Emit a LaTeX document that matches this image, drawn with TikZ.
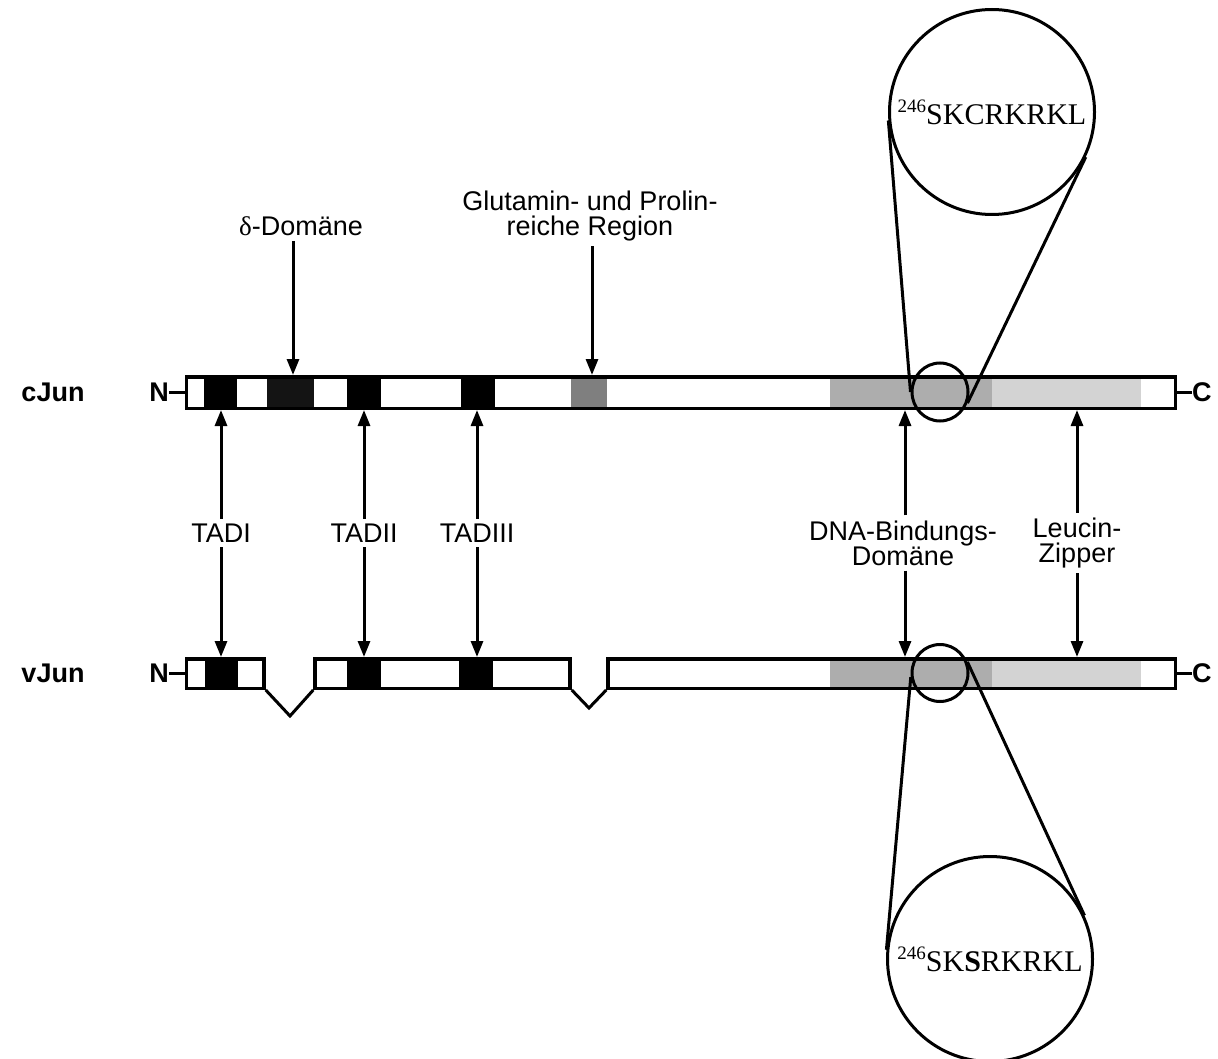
\documentclass[tikz,border=0pt]{standalone}
\usepackage{fontspec}
\setmainfont{Liberation Sans}
\newfontfamily\seqfont{Liberation Serif}
\usetikzlibrary{arrows.meta,shapes.geometric,calc}
\definecolor{darkblk}{HTML}{141414}
\definecolor{pqgray}{HTML}{7F7F7F}
\definecolor{dnagray}{HTML}{ADADAD}
\definecolor{lzgray}{HTML}{D3D3D3}
\begin{document}
\begin{tikzpicture}[x=1pt,y=-1pt,
  lab/.style={font=\fontsize{27}{25}\selectfont, align=center, inner sep=5pt},
  blab/.style={font=\fontsize{27}{25}\selectfont\bfseries, inner sep=0pt},
  arr/.style={line width=3pt, -{Triangle[length=16pt,width=12pt]}},
  barbox/.style={draw, line width=3.5pt, inner sep=0pt, minimum height=31.5pt},
  vbox/.style={draw, line width=3.5pt, inner sep=0pt, minimum height=29.5pt},
  thin/.style={line width=3pt},
  zoomc/.style={circle, draw, line width=3pt, inner sep=0pt, minimum size=205pt, font=\seqfont\fontsize{30}{32}\selectfont},
  smallc/.style={ellipse, draw, line width=3pt, inner sep=0pt}
]
\useasboundingbox (0,0) rectangle (1218,1059);

% ---------- cJun ----------
\fill[black]   (204,376.5) rectangle (237,408.5);
\fill[darkblk] (267,376.5) rectangle (314,408.5);
\fill[black]   (347,376.5) rectangle (381,408.5);
\fill[black]   (461,376.5) rectangle (495,408.5);
\fill[pqgray]  (571,376.5) rectangle (607,408.5);
\fill[dnagray] (830,376.5) rectangle (992,408.5);
\fill[lzgray]  (992,376.5) rectangle (1141,408.5);
\node[barbox, minimum width=989pt] (cbar) at (681,392.5) {};

\node[blab] (clab) at (53,392) {cJun};
\node[blab, anchor=east] (cN) at (169,392.5) {N};
\node[blab, anchor=west] (cC) at (1192,392.5) {C};
\draw[line width=3.5pt] (cN.east) -- (cbar.west);
\draw[line width=3.5pt] (cbar.east) -- (cC.west);

% ---------- vJun ----------
\fill[black]   (205,658.5) rectangle (238,688.5);
\fill[black]   (347,658.5) rectangle (381,688.5);
\fill[black]   (459,658.5) rectangle (493,688.5);
\fill[dnagray] (830,658.5) rectangle (992,688.5);
\fill[lzgray]  (992,658.5) rectangle (1141,688.5);
\node[vbox, minimum width=77.5pt]  (v1) at (225.25,673.5) {};
\node[vbox, minimum width=255pt]   (v2) at (442.5,673.5) {};
\node[vbox, minimum width=567.5pt] (v3) at (891.75,673.5) {};
\draw[line width=3pt] (v1.south east) -- (290,716) -- (v2.south west);
\draw[line width=3pt] (v2.south east) -- (589,708) -- (v3.south west);

\node[blab] (vlab) at (53,673) {vJun};
\node[blab, anchor=east] (vN) at (169,673.5) {N};
\node[blab, anchor=west] (vC) at (1192,673.5) {C};
\draw[line width=3.5pt] (vN.east) -- (v1.west);
\draw[line width=3.5pt] (v3.east) -- (vC.west);

% ---------- top labels ----------
\node[lab] (delta) at (301,226) {{\seqfont δ}-Domäne};
\draw[arr] ([xshift=-8pt]delta.south) -- ([xshift=-8pt]delta.south |- cbar.north);
\node[lab] (glu) at (590,216) {Glutamin- und Prolin-\\reiche Region};
\draw[arr] ([xshift=2pt]glu.south) -- ([xshift=2pt]glu.south |- cbar.north);

% ---------- middle labels with double arrows ----------
\node[lab] (tadi) at (221,533) {TADI};
\node[lab] (tadii) at (364,533) {TADII};
\node[lab] (tadiii) at (477,533) {TADIII};
\node[lab] (dna) at (903,543) {DNA-Bindungs-\\Domäne};
\node[lab] (lz) at (1077,543) {Leucin-\\Zipper};
\foreach \n/\dx in {tadi/0,tadii/0,tadiii/0,dna/2,lz/0}{
  \draw[arr] ([xshift=\dx pt]\n.north) -- ([xshift=\dx pt]\n.north |- cbar.south);
  \draw[arr] ([xshift=\dx pt]\n.south) -- ([xshift=\dx pt]\n.south |- v3.north);
}

% ---------- zoom circles ----------
\node[smallc, minimum width=56pt, minimum height=58pt] (cs) at (940,392) {};
\node[smallc, minimum width=56pt, minimum height=57pt] (vs) at (940,673) {};
\node[zoomc] (ctop) at (992,112) {\raisebox{0.4em}{\fontsize{19}{19}\selectfont 246}SKCRKRKL};
\node[zoomc] (vbot) at (990,959) {\raisebox{0.4em}{\fontsize{19}{19}\selectfont 246}SK\textbf{S}RKRKL};

\coordinate (cs1) at (cs.180);
\coordinate (cs2) at (cs.-22);
\coordinate (vs1) at (vs.-172);
\coordinate (vs2) at (vs.22);
\draw[thin] (cs1) -- (tangent cs:node=ctop,point={(cs1)},solution=2);
\draw[thin] (cs2) -- (tangent cs:node=ctop,point={(cs2)},solution=1);
\draw[thin] (vs1) -- (tangent cs:node=vbot,point={(vs1)},solution=1);
\draw[thin] (vs2) -- (tangent cs:node=vbot,point={(vs2)},solution=2);
\end{tikzpicture}
\end{document}
